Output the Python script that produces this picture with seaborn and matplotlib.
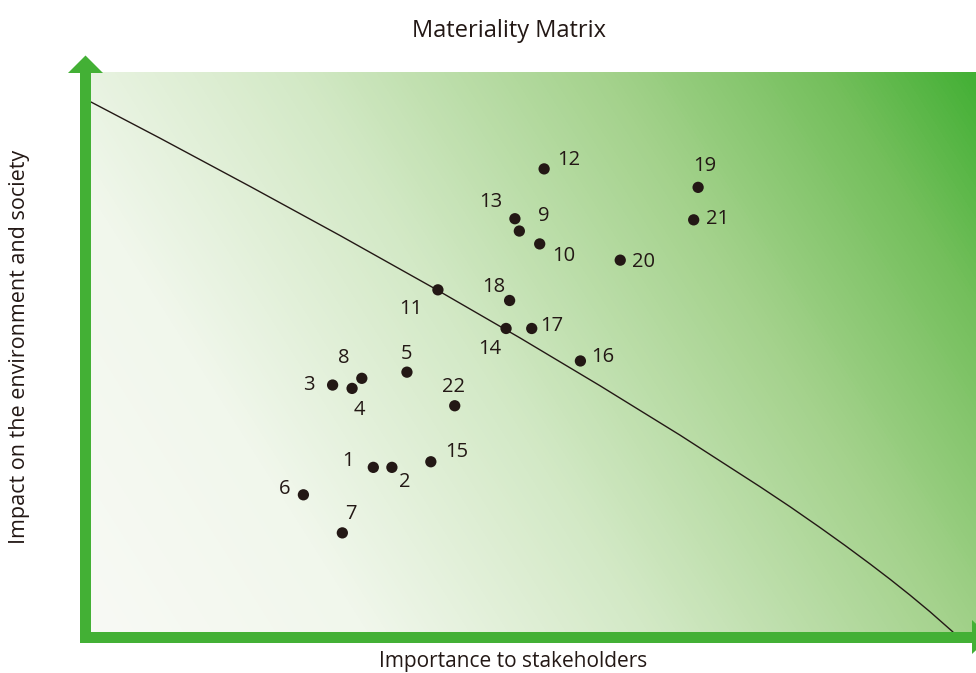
import numpy as np
import pandas as pd
import matplotlib
matplotlib.use("Agg")
import matplotlib.pyplot as plt
from matplotlib.colors import LinearSegmentedColormap
from matplotlib.patches import Polygon, Rectangle
import seaborn as sns

# ---- data -------------------------------------------------------------
topics = [str(i) for i in range(1, 23)]
stakeholder_importance = [3.19, 3.40, 2.73, 2.95, 3.57, 2.40, 2.84, 3.06, 4.84, 5.07, 3.92,
                          5.12, 4.79, 4.69, 3.84, 5.53, 4.98, 4.73, 6.86, 5.98, 6.81, 4.11]
impact_on_society = [2.94, 2.94, 4.41, 4.35, 4.64, 2.45, 1.77, 4.53, 7.16, 6.93, 6.11,
                     8.27, 7.38, 5.42, 3.04, 4.84, 5.42, 5.92, 7.94, 6.64, 7.36, 4.04]

# materiality threshold curve
threshold_x = [0.000, 0.780, 1.797, 2.814, 3.864, 4.847, 5.751, 6.655, 7.559,
               7.898, 8.237, 8.520, 8.802, 9.028, 9.254, 9.480, 9.740]
threshold_y = [9.464, 8.818, 7.957, 7.080, 6.150, 5.252, 4.398, 3.516, 2.595,
               2.238, 1.866, 1.546, 1.216, 0.943, 0.659, 0.362, 0.000]

# label placement relative to each dot (pixels: right, up)
label_offsets = {
    "1": (-25, 6), "2": (13, -15), "3": (-24, 0), "4": (7, -22), "5": (0, 18),
    "6": (-19, 6), "7": (9, 19), "8": (-18, 20), "9": (24, 15), "10": (24, -12),
    "11": (-27, -19), "12": (25, 9), "13": (-24, 17), "14": (-16, -21), "15": (26, 10),
    "16": (22, 4), "17": (20, 2), "18": (-16, 13), "19": (7, 21), "20": (23, -2),
    "21": (24, 1), "22": (-1, 19),
}

df = pd.DataFrame({"topic": topics, "x": stakeholder_importance, "y": impact_on_society})

# ---- figure -----------------------------------------------------------
sns.set_theme(style="white")
plt.rcParams["font.family"] = ["Open Sans", "DejaVu Sans"]

W_PX, H_PX = 976, 673
fig = plt.figure(figsize=(W_PX / 100, H_PX / 100), dpi=100)
fig.patch.set_facecolor("white")

GREEN = "#43b035"
INK = "#231815"

# plot box in pixels
box_l, box_r, box_t, box_b = 91, 976, 72, 632
ax = fig.add_axes([box_l / W_PX, (H_PX - box_b) / H_PX,
                   (box_r - box_l) / W_PX, (box_b - box_t) / H_PX])

# diagonal background gradient, light lower-left to green upper-right
bw, bh = box_r - box_l, box_b - box_t
u = np.linspace(0, bw, bw)
v = np.linspace(0, bh, bh)
U, V = np.meshgrid(u, v)
t = (U * bw + V * bh) / (bw ** 2 + bh ** 2)
cmap = LinearSegmentedColormap.from_list(
    "matgreen",
    [(0.0, "#f8faf5"), (0.22, "#f1f7ec"), (0.45, "#d3e9c6"),
     (0.7, "#a4d28c"), (0.88, "#74bf5c"), (1.0, GREEN)])
ax.imshow(t, origin="lower", extent=(0, 10, 0, 10), aspect="auto",
          cmap=cmap, vmin=0, vmax=1, zorder=0, interpolation="bilinear")

ax.plot(threshold_x, threshold_y, color=INK, lw=1.0, zorder=2,
        solid_joinstyle="round")

sns.scatterplot(data=df, x="x", y="y", ax=ax, color=INK, s=66,
                edgecolor="none", zorder=3, legend=False)

for _, row in df.iterrows():
    dx, dy = label_offsets[row["topic"]]
    ax.annotate(row["topic"], (row["x"], row["y"]), xytext=(dx, dy),
                textcoords="offset pixels", ha="center", va="center",
                fontsize=14.5, color=INK, zorder=4)

ax.set_xlim(0, 10)
ax.set_ylim(0, 10)
ax.set_axis_off()

# axis arrows drawn in figure pixels
deco = fig.add_axes([0, 0, 1, 1], zorder=5)
deco.set_xlim(0, W_PX)
deco.set_ylim(H_PX, 0)
deco.set_axis_off()
deco.patch.set_alpha(0)
deco.add_patch(Rectangle((79.5, 72.5), 11.5, 570.5, color=GREEN, lw=0))
deco.add_patch(Rectangle((79.5, 631.5), 893, 11.2, color=GREEN, lw=0))
deco.add_patch(Polygon([(68, 73), (103, 73), (85.5, 55.5)], closed=True, color=GREEN, lw=0))
deco.add_patch(Polygon([(972, 620), (972, 654), (990, 637)], closed=True, color=GREEN, lw=0))

fig.text(509 / W_PX, 1 - 31 / H_PX, "Materiality Matrix", ha="center", va="center",
         fontsize=17, color=INK)
fig.text(513 / W_PX, 1 - 662 / H_PX, "Importance to stakeholders", ha="center",
         va="center", fontsize=15, color=INK)
fig.text(20 / W_PX, 1 - 347 / H_PX, "Impact on the environment and society",
         ha="center", va="center", rotation=90, fontsize=15.5, color=INK)

fig.savefig("out.png", dpi=100)
